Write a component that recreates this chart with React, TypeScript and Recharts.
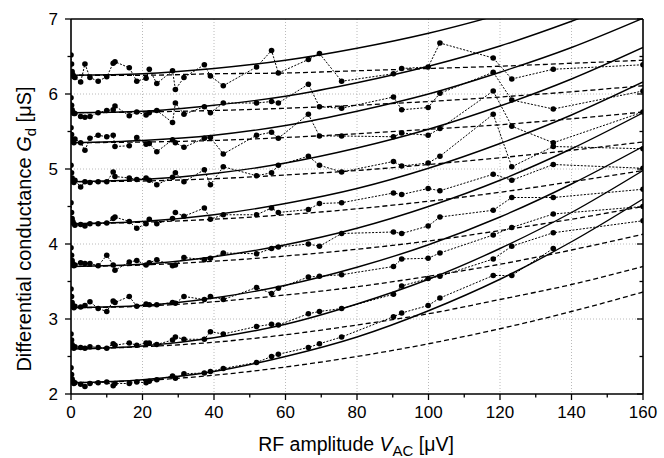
import { LineChart, Line, XAxis, YAxis, CartesianGrid } from "recharts"

// fitted curves, sampled every 20 µV
const fitX = [0, 20, 40, 60, 80, 100, 120, 140, 160]

const solid1 = [2.15, 2.19, 2.3, 2.5, 2.76, 3.11, 3.53, 4.03, 4.6]
const solid2 = [2.6, 2.64, 2.75, 2.93, 3.2, 3.53, 3.94, 4.42, 4.98]
const solid3 = [3.15, 3.18, 3.28, 3.45, 3.69, 3.99, 4.36, 4.8, 5.3]
const solid4 = [3.7, 3.73, 3.83, 3.99, 4.21, 4.5, 4.85, 5.27, 5.75]
const solid5 = [4.27, 4.3, 4.39, 4.54, 4.74, 5.01, 5.34, 5.72, 6.16]
const solid6 = [4.83, 4.86, 4.94, 5.08, 5.28, 5.53, 5.84, 6.2, 6.62]
const solid7 = [5.35, 5.38, 5.45, 5.58, 5.77, 6.0, 6.29, 6.62, 7.01]
const solid8 = [5.75, 5.77, 5.85, 5.97, 6.15, 6.37, 6.64, 6.97, 7.34]
const solid9 = [6.25, 6.27, 6.34, 6.45, 6.61, 6.81, 7.06, 7.35, 7.68]

const dashed1 = [2.15, 2.18, 2.25, 2.36, 2.5, 2.67, 2.87, 3.1, 3.36]
const dashed2 = [2.6, 2.63, 2.69, 2.79, 2.92, 3.07, 3.26, 3.46, 3.7]
const dashed3 = [3.15, 3.17, 3.23, 3.32, 3.43, 3.57, 3.73, 3.92, 4.13]
const dashed4 = [3.7, 3.72, 3.77, 3.84, 3.93, 4.04, 4.18, 4.33, 4.5]
const dashed5 = [4.27, 4.29, 4.33, 4.39, 4.47, 4.57, 4.69, 4.83, 4.98]
const dashed6 = [4.83, 4.84, 4.87, 4.92, 4.98, 5.06, 5.15, 5.25, 5.36]
const dashed7 = [5.35, 5.36, 5.38, 5.42, 5.47, 5.53, 5.59, 5.67, 5.76]
const dashed8 = [5.75, 5.76, 5.78, 5.81, 5.85, 5.9, 5.96, 6.03, 6.11]
const dashed9 = [6.25, 6.25, 6.27, 6.28, 6.31, 6.34, 6.37, 6.41, 6.45]

// measured points (RF amplitude in µV)
const measX = [
  0, 0.15, 0.3, 0.5, 0.8, 1.1, 2.7, 3.9, 5.3, 7.6, 10, 11.8, 12.3, 16.3, 18.4, 21, 21.9, 24, 28.4,
  29.2, 31.6, 37.3, 39, 42.6, 51.9, 56.1, 58, 66.4, 69.5, 75.7, 90.2, 92.5, 99.9, 103.2, 118.1,
  123.3, 134.9, 160,
]

const meas1 = [
  2.35, 2.26, 2.2, 2.17, 2.14, 2.15, 2.13, 2.1, 2.14, 2.15, 2.16, 2.11, 2.14, 2.14, 2.16, 2.15, 2.17,
  2.19, 2.24, 2.21, 2.27, 2.28, 2.3, 2.34, 2.42, 2.5, 2.53, 2.62, 2.67, 2.76, 3.03, 3.08, 3.18, 3.28,
  3.58, 3.58, 3.94, null,
]
const meas2 = [
  2.8, 2.72, 2.66, 2.63, 2.61, 2.63, 2.62, 2.61, 2.63, 2.62, 2.61, 2.67, 2.65, 2.68, 2.65, 2.68, 2.68,
  2.66, 2.72, 2.76, 2.73, 2.73, 2.83, 2.8, 2.9, 2.93, 2.92, 3.07, 3.1, 3.14, 3.33, 3.44, 3.54, 3.57,
  3.8, 3.97, 4.15, 4.31,
]
const meas3 = [
  3.4, 3.3, 3.22, 3.18, 3.15, 3.17, 3.16, 3.18, 3.23, 3.14, 3.1, 3.24, 3.22, 3.3, 3.17, 3.2, 3.19,
  3.19, 3.22, 3.21, 3.3, 3.26, 3.3, 3.26, 3.42, 3.34, 3.41, 3.56, 3.57, 3.59, 3.7, 3.8, 3.81, 3.88,
  4.12, 4.22, 4.4, 4.5,
]
const meas4 = [
  3.95, 3.85, 3.78, 3.74, 3.71, 3.72, 3.75, 3.74, 3.74, 3.71, 3.85, 3.72, 3.65, 3.76, 3.78, 3.72,
  3.75, 3.79, 3.71, 3.72, 3.82, 3.79, 3.81, 3.88, 3.87, 3.94, 3.96, 4.0, 3.97, 4.14, 4.16, 4.14, 4.24,
  4.36, 4.45, 4.62, 4.62, 4.73,
]
const meas5 = [
  4.55, 4.42, 4.34, 4.3, 4.27, 4.25, 4.26, 4.24, 4.27, 4.27, 4.28, 4.34, 4.36, 4.3, 4.21, 4.27, 4.33,
  4.27, 4.34, 4.42, 4.37, 4.48, 4.33, 4.39, 4.39, 4.48, 4.42, 4.46, 4.54, 4.55, 4.68, 4.66, 4.74,
  4.71, 4.93, 4.85, 5.06, 5.01,
]
const meas6 = [
  5.05, 4.95, 4.88, 4.84, 4.82, 4.85, 4.76, 4.83, 4.82, 4.83, 4.83, 4.96, 4.9, 4.88, 4.86, 4.88, 4.85,
  4.79, 4.89, 4.95, 4.83, 4.99, 4.79, 5.03, 4.91, 4.95, 5.05, 5.17, 5.05, 4.96, 5.1, 5.04, 5.08, 5.17,
  5.73, 5.03, 5.3, 5.27,
]
const meas7 = [
  5.55, 5.46, 5.4, 5.37, 5.35, 5.4, 5.35, 5.25, 5.41, 5.45, 5.43, 5.45, 5.3, 5.31, 5.42, 5.33, 5.34,
  5.23, 5.39, 5.35, 5.29, 5.41, 5.42, 5.2, 5.45, 5.49, 5.41, 5.73, 5.44, 5.44, 5.43, 5.48, 5.45, 5.54,
  6.04, 5.57, 5.35, 5.76,
]
const meas8 = [
  5.95, 5.85, 5.79, 5.76, 5.74, 5.74, 5.7, 5.69, 5.7, 5.75, 5.78, 5.79, 5.84, 5.71, 5.76, 5.72, 5.75,
  5.78, 5.62, 5.88, 5.73, 5.83, 5.75, 5.88, 5.88, 5.9, 5.88, 6.13, 5.83, 5.81, 5.96, 5.79, 5.82, 6.01,
  6.29, 5.92, 5.8, 6.04,
]
const meas9 = [
  6.52, 6.4, 6.3, 6.26, 6.23, 6.22, 6.16, 6.4, 6.22, 6.17, 6.23, 6.41, 6.43, 6.35, 6.17, 6.21, 6.33,
  6.14, 6.31, 6.06, 6.22, 6.39, 6.24, 6.11, 6.36, 6.58, 6.28, 6.46, 6.54, 6.17, 6.27, 6.34, 6.36,
  6.68, 6.48, 6.2, 6.33, 6.39,
]

const xTicks = [0, 10, 20, 30, 40, 50, 60, 70, 80, 90, 100, 110, 120, 130, 140, 150, 160]
const yTicks = [2, 2.5, 3, 3.5, 4, 4.5, 5, 5.5, 6, 6.5, 7]
const xGrid = [20, 40, 60, 80, 100, 120, 140]
const yGrid = [3, 4, 5, 6]

const solidFits = [solid1, solid2, solid3, solid4, solid5, solid6, solid7, solid8, solid9]
const dashedFits = [dashed1, dashed2, dashed3, dashed4, dashed5, dashed6, dashed7, dashed8, dashed9]
const measured = [meas1, meas2, meas3, meas4, meas5, meas6, meas7, meas8, meas9]

const toPoints = (xs: number[], ys: (number | null)[]) => xs.map((x, i) => ({ x, y: ys[i] }))

const FONT = "'Liberation Sans', Arial, Helvetica, sans-serif"

function BottomTick({ x, y, payload }: any) {
  const major = payload.value % 20 === 0
  return (
    <g>
      <line x1={x} x2={x} y1={y} y2={y + (major ? 6 : 3.5)} stroke="#000" strokeWidth={1.3} />
      {major && (
        <text x={x} y={y + 24} textAnchor="middle" fontSize={17} fontFamily={FONT} fill="#000">
          {payload.value}
        </text>
      )}
    </g>
  )
}

function TopTick({ x, y, payload }: any) {
  const major = payload.value % 20 === 0
  return <line x1={x} x2={x} y1={y} y2={y + (major ? 6 : 3.5)} stroke="#000" strokeWidth={1.3} />
}

function LeftTick({ x, y, payload }: any) {
  const major = Number.isInteger(payload.value)
  return (
    <g>
      <line x1={x} x2={x - (major ? 6 : 3.5)} y1={y} y2={y} stroke="#000" strokeWidth={1.3} />
      {major && (
        <text x={x - 13} y={y + 6} textAnchor="end" fontSize={17} fontFamily={FONT} fill="#000">
          {payload.value}
        </text>
      )}
    </g>
  )
}

function RightTick({ x, y, payload }: any) {
  const major = Number.isInteger(payload.value)
  return <line x1={x} x2={x - (major ? 6 : 3.5)} y1={y} y2={y} stroke="#000" strokeWidth={1.3} />
}

function XTitle() {
  return (
    <text x={356} y={451} textAnchor="middle" fontSize={19.5} fontFamily={FONT} fill="#000">
      RF amplitude <tspan fontStyle="italic">V</tspan>
      <tspan dy={5} fontSize={15}>AC</tspan>
      <tspan dy={-5}> [μV]</tspan>
    </text>
  )
}

function YTitle() {
  return (
    <text
      transform="translate(31,229) rotate(-90)"
      textAnchor="middle"
      fontSize={20}
      fontFamily={FONT}
      fill="#000"
    >
      Differential conductance <tspan fontStyle="italic">G</tspan>
      <tspan dy={5} fontSize={15}>d</tspan>
      <tspan dy={-5}> [μS]</tspan>
    </text>
  )
}

export default function App() {
  return (
    <div style={{ width: 664, height: 458, background: "#fff" }}>
      <style>{"body{margin:0}"}</style>
      <LineChart width={664} height={458} margin={{ top: 19, right: 21, bottom: 24, left: 11 }}>
        <CartesianGrid
          xAxisId="b"
          yAxisId="l"
          verticalValues={xGrid}
          horizontalValues={yGrid}
          stroke="#a8a8a8"
          strokeDasharray="1 2"
          strokeWidth={0.8}
        />
        <XAxis
          xAxisId="b"
          dataKey="x"
          type="number"
          domain={[0, 160]}
          allowDataOverflow
          ticks={xTicks}
          interval={0}
          height={40}
          tickSize={0}
          tickMargin={0}
          tickLine={false}
          tick={<BottomTick />}
          axisLine={{ stroke: "#000", strokeWidth: 1.6 }}
          label={{ content: () => <XTitle /> }}
        />
        <XAxis
          xAxisId="t"
          orientation="top"
          mirror
          type="number"
          domain={[0, 160]}
          allowDataOverflow
          ticks={xTicks}
          interval={0}
          tickSize={0}
          tickMargin={0}
          tickLine={false}
          tick={<TopTick />}
          axisLine={{ stroke: "#000", strokeWidth: 1.6 }}
        />
        <YAxis
          yAxisId="l"
          type="number"
          domain={[2, 7]}
          allowDataOverflow
          ticks={yTicks}
          interval={0}
          width={60}
          tickSize={0}
          tickMargin={0}
          tickLine={false}
          tick={<LeftTick />}
          axisLine={{ stroke: "#000", strokeWidth: 1.6 }}
          label={{ content: () => <YTitle /> }}
        />
        <YAxis
          yAxisId="r"
          orientation="right"
          mirror
          type="number"
          domain={[2, 7]}
          allowDataOverflow
          ticks={yTicks}
          interval={0}
          tickSize={0}
          tickMargin={0}
          tickLine={false}
          tick={<RightTick />}
          axisLine={{ stroke: "#000", strokeWidth: 1.6 }}
        />

        {dashedFits.map((ys, i) => (
          <Line
            key={"d" + i}
            xAxisId="b"
            yAxisId="l"
            data={toPoints(fitX, ys)}
            dataKey="y"
            type="monotone"
            stroke="#000"
            strokeWidth={1.3}
            strokeDasharray="5 3"
            dot={false}
            activeDot={false}
            isAnimationActive={false}
          />
        ))}
        {solidFits.map((ys, i) => (
          <Line
            key={"s" + i}
            xAxisId="b"
            yAxisId="l"
            data={toPoints(fitX, ys)}
            dataKey="y"
            type="monotone"
            stroke="#000"
            strokeWidth={1.4}
            dot={false}
            activeDot={false}
            isAnimationActive={false}
          />
        ))}
        {measured.map((ys, i) => (
          <Line
            key={"m" + i}
            xAxisId="b"
            yAxisId="l"
            data={toPoints(measX, ys)}
            dataKey="y"
            type="linear"
            stroke="#000"
            strokeWidth={1}
            strokeDasharray="2 1.5"
            dot={{ r: 2.8, fill: "#000", stroke: "none" }}
            activeDot={false}
            isAnimationActive={false}
          />
        ))}
      </LineChart>
    </div>
  )
}
